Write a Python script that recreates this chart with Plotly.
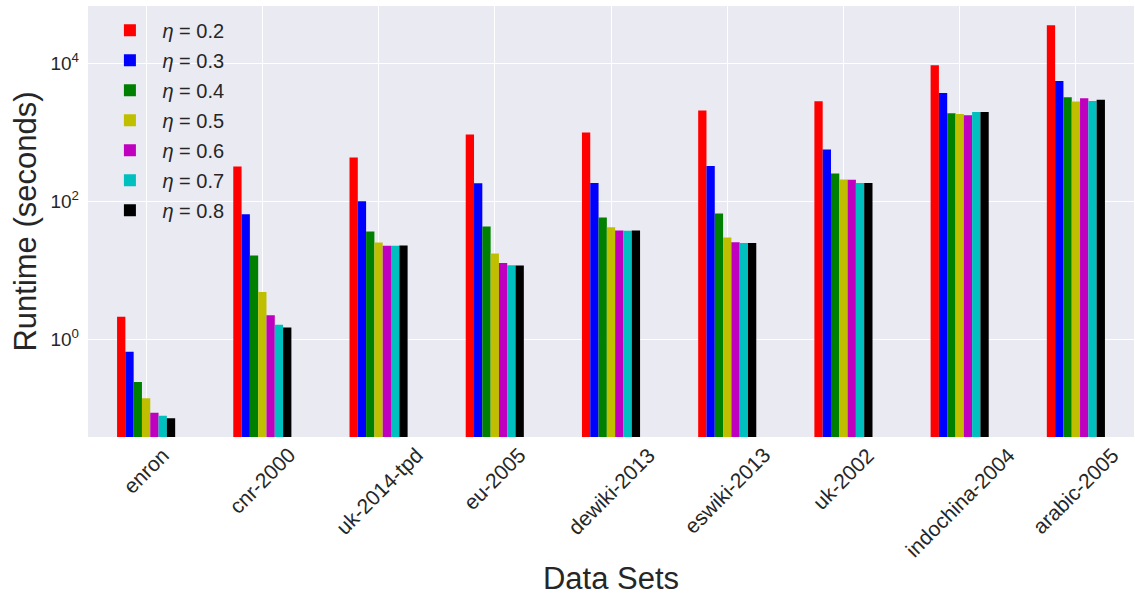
import plotly.graph_objects as go

datasets = ["enron", "cnr-2000", "uk-2014-tpd", "eu-2005", "dewiki-2013",
            "eswiki-2013", "uk-2002", "indochina-2004", "arabic-2005"]
etas = ["0.2", "0.3", "0.4", "0.5", "0.6", "0.7", "0.8"]

eta_02 = [2.13, 322, 434, 935, 1000, 2083, 2843, 9450, 35900]
eta_03 = [0.661, 65.5, 101, 184, 186, 328, 567, 3750, 5600]
eta_04 = [0.241, 16.5, 36.7, 43.4, 58.6, 67, 255, 1905, 3250]
eta_05 = [0.140, 4.85, 25.5, 17.6, 42.4, 30.1, 208, 1862, 2810]
eta_06 = [0.0863, 2.23, 22.7, 12.8, 38.0, 25.7, 206, 1780, 3150]
eta_07 = [0.0780, 1.63, 22.7, 11.9, 37.5, 24.9, 186, 1985, 2875]
eta_08 = [0.0716, 1.49, 23.0, 11.8, 38.0, 24.9, 186, 1985, 2975]

series = [eta_02, eta_03, eta_04, eta_05, eta_06, eta_07, eta_08]
colors = ["#FF0000", "#0000FF", "#008000", "#BFBF00", "#BF00BF", "#00BFBF", "#000000"]

FONT = "Liberation Sans, Arial, sans-serif"
TXT = "#262626"

fig = go.Figure()
for eta, vals, col in zip(etas, series, colors):
    fig.add_trace(go.Bar(
        x=datasets, y=vals, name=f"<i>η</i> = {eta}",
        marker=dict(color=col, line=dict(width=0)),
        legendgroup=eta,
    ))

for ds in datasets:
    fig.add_annotation(
        x=ds, xref="x", y=-0.008, yref="paper",
        text=ds, textangle=-45, showarrow=False,
        xanchor="center", yanchor="top",
        font=dict(family=FONT, size=21, color=TXT),
    )

fig.update_layout(
    width=1135, height=596,
    margin=dict(l=88, r=1, t=6, b=159),
    paper_bgcolor="white", plot_bgcolor="#EAEAF2",
    barmode="group", bargap=0.5, bargroupgap=0,
    font=dict(family=FONT, color=TXT),
    legend=dict(
        x=0.009, y=0.989, xanchor="left", yanchor="top",
        bgcolor="rgba(0,0,0,0)", font=dict(family=FONT, size=20, color=TXT),
        tracegroupgap=1, itemwidth=55,
    ),
    xaxis=dict(
        range=[-0.5, 8.5], showticklabels=False, showgrid=True,
        gridcolor="white", gridwidth=1, zeroline=False, ticks="",
        title=dict(text="Data Sets", font=dict(family=FONT, size=31, color=TXT), standoff=130),
        showline=False, automargin=False,
    ),
    yaxis=dict(
        type="log", range=[-1.416, 4.835],
        tickvals=[1, 100, 10000],
        ticktext=["10<sup>0</sup>", "10<sup>2</sup>", "10<sup>4</sup>"],
        tickfont=dict(family=FONT, size=19, color=TXT),
        ticklabelstandoff=8,
        showgrid=True, gridcolor="white", gridwidth=1, zeroline=False,
        ticks="", showline=False, automargin=False,
        title=dict(text="Runtime (seconds)", font=dict(family=FONT, size=31, color=TXT), standoff=4),
    ),
)

fig.write_html("out.html", config={"displayModeBar": False},
               post_script="document.body.style.margin='0';")
